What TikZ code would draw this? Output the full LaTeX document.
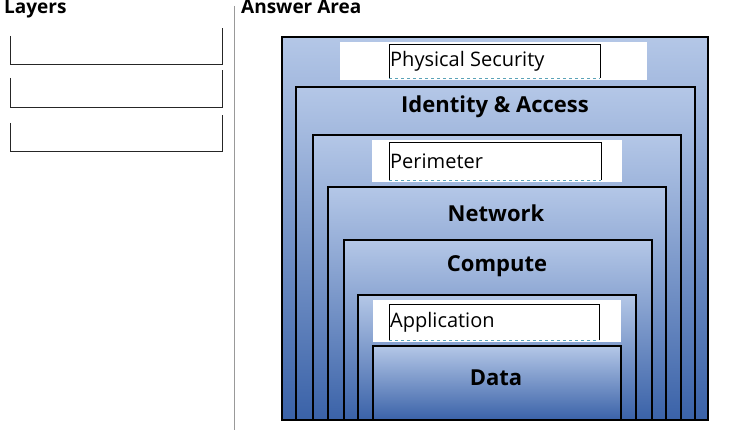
\documentclass[tikz,border=0pt]{standalone}
\usepackage{fontspec}
\setmainfont{Open Sans}
\definecolor{layerlight}{HTML}{B4C7E7}
\definecolor{layerdark}{HTML}{3A62A8}
\definecolor{slotedge}{HTML}{5BA3B8}
\begin{document}
\begin{tikzpicture}
[
x=1pt,y=-1pt,
layer/.style={draw=black,line width=1.6pt,top color=layerlight,middle color=layerlight,bottom color=layerdark},
band/.style={fill=white,draw=none},
heading/.style={font=\bfseries\fontsize{22}{24}\selectfont},
title/.style={font=\bfseries\fontsize{19}{21}\selectfont,anchor=north west,inner sep=0pt},
entry/.style={font=\fontsize{20}{22}\selectfont,anchor=west,inner sep=1pt},
]
\useasboundingbox (0,0) rectangle (755,430);

%Left pane
\node[title] (layers) at (4,0) {Layers};
\foreach \i/\ya/\yb in {1/28/64,2/70/107,3/115/151}{
\draw[line width=0.9pt,black!85] (10,\ya+8) |- (222,\yb) -- (222,\ya);
}
\draw[line width=1pt,black!40] (234,6) -- (234,430);
\node[title] (answer) at (241,0) {Answer Area};

%Nested layers
\foreach \i/\xa/\ya/\xb in {1/282/37/708,2/296/87/695,3/313/135/681,4/328/187/666,5/344/240/652,6/358/295/636,7/373/346/621}{
\draw[layer] (\xa,\ya) rectangle (\xb,420);
}

%Bands with answer slots
\fill[band] (340,42) rectangle (647,80);
\fill[band] (372,140) rectangle (622,182);
\fill[band] (373,300) rectangle (621,342);
\foreach \name/\xa/\ya/\xb/\yb/\txt in {phys/389/44/600/78/Physical Security,peri/389/142/601/180/Perimeter,app/389/304/599/340/Application}{
\draw[slotedge,dashed,line width=0.6pt] (\xa,\yb) -- (\xb,\yb);
\draw[black,line width=0.9pt] (\xa,\yb) -- (\xa,\ya) -- (\xb,\ya) -- (\xb,\yb);
\node[entry] (\name) at (\xa,{(\ya+\yb)/2}) {\txt};
}

%Layer names
\node[heading] (ident) at (495,107) {Identity \& Access};
\node[heading] (net) at (496,213) {Network};
\node[heading] (comp) at (497,266) {Compute};
\node[heading] (data) at (496,378) {Data};
\end{tikzpicture}
\end{document}
